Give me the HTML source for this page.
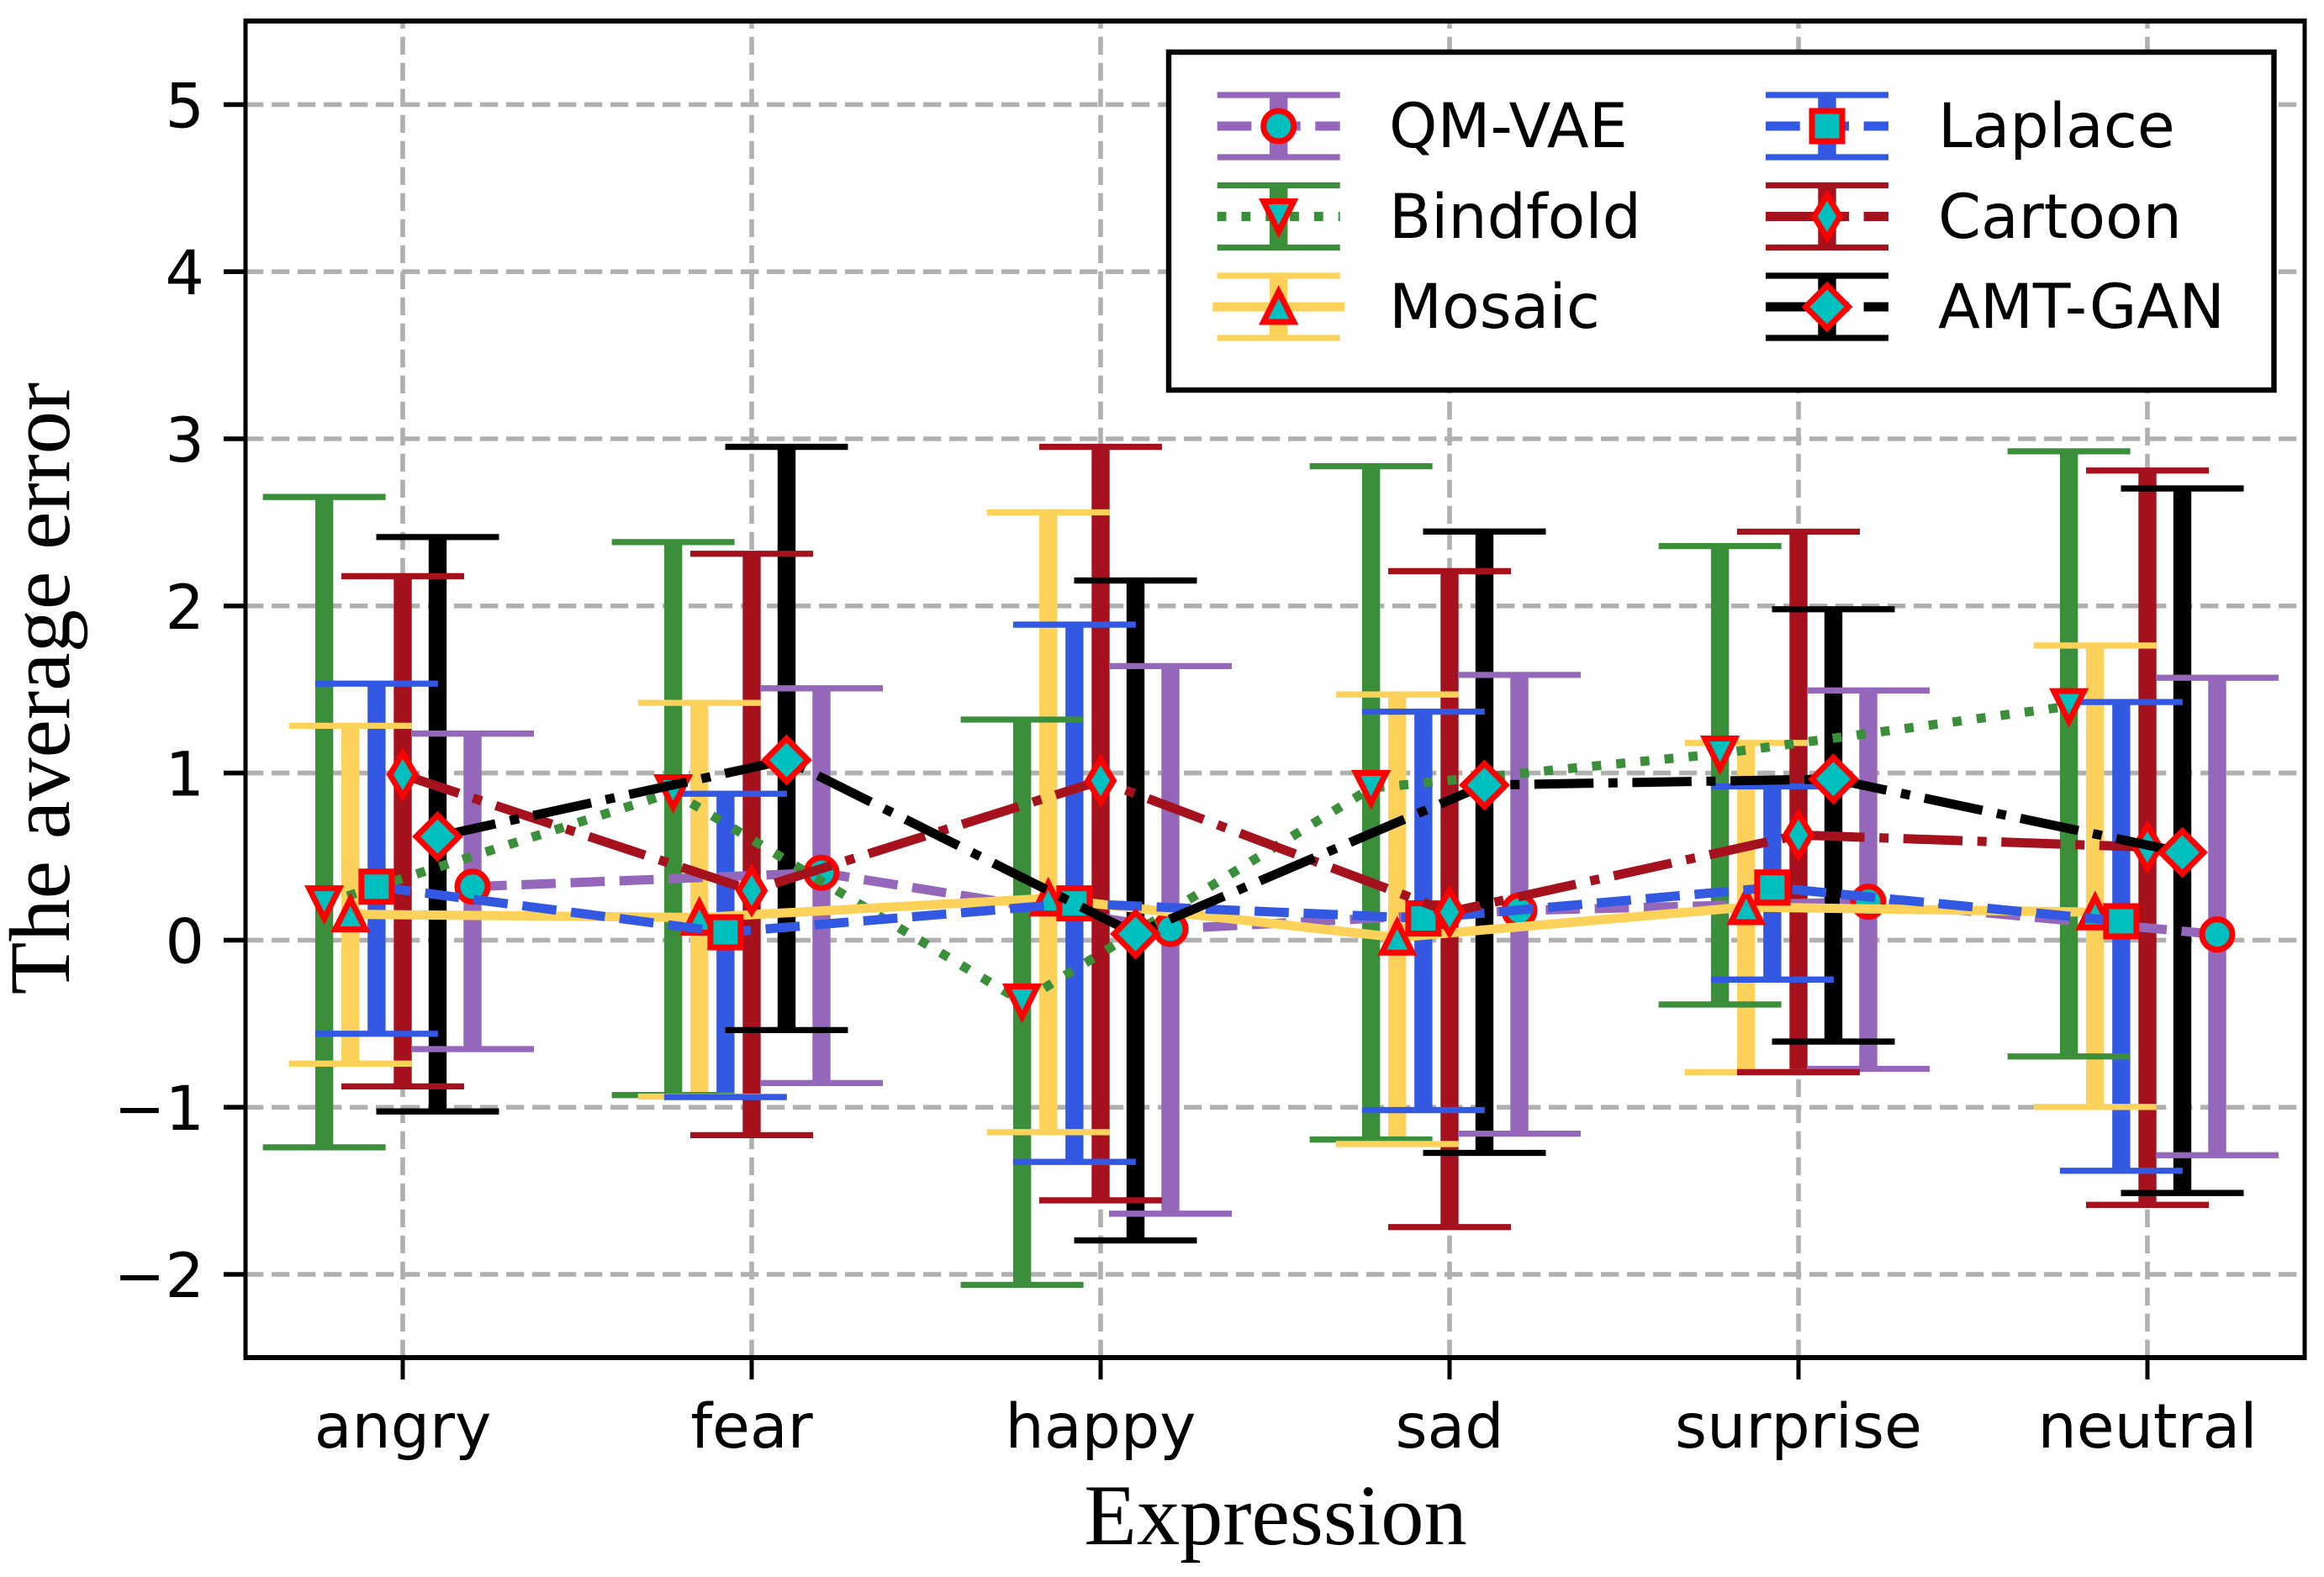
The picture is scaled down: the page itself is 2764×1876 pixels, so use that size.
<!DOCTYPE html>
<html lang="en">
<head>
<meta charset="utf-8">
<title>The average error by expression</title>
<style>
  html, body { margin: 0; padding: 0; background: #ffffff; }
  svg { display: block; }
  .tick { font-family: "DejaVu Sans", sans-serif; font-size: 73px; fill: #000; }
  .axis-title { font-family: "Liberation Serif", serif; font-size: 102.5px; fill: #000; }
</style>
</head>
<body>
<svg id="chart" xmlns="http://www.w3.org/2000/svg" width="2764" height="1876" viewBox="0 0 2764 1876">
  <rect x="0" y="0" width="2764" height="1876" fill="#ffffff"/>
  <g id="grid"></g>
  <g id="bars"></g>
  <g id="caps"></g>
  <g id="series"></g>
  <g id="spines"></g>
  <g id="ticks"></g>
  <text class="axis-title" x="1517" y="1837" text-anchor="middle">Expression</text>
  <text class="axis-title" x="82" y="819" text-anchor="middle" transform="rotate(-90 82 819)">The average error</text>
  <g id="legend">
    <rect x="1390" y="62" width="1314.5" height="402" fill="#ffffff" stroke="#000000" stroke-width="6.4"/>
    <text class="tick" x="1652" y="175">QM-VAE</text>
    <text class="tick" x="1652" y="283">Bindfold</text>
    <text class="tick" x="1652" y="390">Mosaic</text>
    <text class="tick" x="2305" y="175">Laplace</text>
    <text class="tick" x="2305" y="283">Cartoon</text>
    <text class="tick" x="2305" y="390">AMT-GAN</text>
  </g>
</svg>
<script>
// ---- data ----
const categories = ['angry', 'fear', 'happy', 'sad', 'surprise', 'neutral'];
const yTicks = [5, 4, 3, 2, 1, 0, -1, -2];
const yTickLabels = ['5', '4', '3', '2', '1', '0', '\u22121', '\u22122'];

const qmVaeMean  = [0.32, 0.403, 0.067, 0.177, 0.23, 0.034];
const qmVaeUpper = [1.236, 1.507, 1.64, 1.587, 1.494, 1.57];
const qmVaeLower = [-0.652, -0.855, -1.637, -1.158, -0.77, -1.287];

const bindfoldMean  = [0.22, 0.885, -0.368, 0.91, 1.116, 1.40];
const bindfoldUpper = [2.652, 2.382, 1.32, 2.836, 2.358, 2.925];
const bindfoldLower = [-1.24, -0.927, -2.063, -1.193, -0.385, -0.696];

const mosaicMean  = [0.155, 0.135, 0.25, 0.016, 0.198, 0.167];
const mosaicUpper = [1.283, 1.42, 2.56, 1.47, 1.18, 1.763];
const mosaicLower = [-0.739, -0.936, -1.149, -1.22, -0.79, -0.998];

const laplaceMean  = [0.32, 0.047, 0.22, 0.13, 0.315, 0.113];
const laplaceUpper = [1.535, 0.876, 1.888, 1.367, 0.92, 1.425];
const laplaceLower = [-0.56, -0.939, -1.327, -1.017, -0.236, -1.38];

const cartoonMean  = [0.99, 0.297, 0.954, 0.168, 0.629, 0.557];
const cartoonUpper = [2.178, 2.312, 2.952, 2.208, 2.444, 2.81];
const cartoonLower = [-0.875, -1.167, -1.557, -1.717, -0.79, -1.584];

const amtGanMean  = [0.62, 1.078, 0.037, 0.928, 0.964, 0.525];
const amtGanUpper = [2.412, 2.952, 2.152, 2.445, 1.98, 2.703];
const amtGanLower = [-1.025, -0.538, -1.797, -1.273, -0.607, -1.513];

// ---- axis functions ----
const plotLeft = 292, plotRight = 2741, plotTop = 25, plotBottom = 1615;
function xScale(v) { return 479 + v * 415; }
function yScale(v) { return 1118.4 - v * 198.8; }

const SVGNS = 'http://www.w3.org/2000/svg';
function make(tag, attrs, name, parent) {
  const el = document.createElementNS(SVGNS, tag);
  for (const k in attrs) el.setAttribute(k, attrs[k]);
  
  
  parent.appendChild(el);
  return el;
}

const seriesDefs = [
  { key: 'qm-vae',   mean: qmVaeMean,    upper: qmVaeUpper,    lower: qmVaeLower,    dodge: 0.2,    color: '#9467bb', dash: '40.7 17.6', marker: 'circle' },
  { key: 'bindfold', mean: bindfoldMean, upper: bindfoldUpper, lower: bindfoldLower, dodge: -0.225, color: '#3b8f3b', dash: '10.8 18', marker: 'tri-down' },
  { key: 'mosaic',   mean: mosaicMean,   upper: mosaicUpper,   lower: mosaicLower,   dodge: -0.15,  color: '#fcd25a', dash: null, marker: 'tri-up' },
  { key: 'laplace',  mean: laplaceMean,  upper: laplaceUpper,  lower: laplaceLower,  dodge: -0.075, color: '#3358e2', dash: '40.7 17.6', marker: 'square' },
  { key: 'cartoon',  mean: cartoonMean,  upper: cartoonUpper,  lower: cartoonLower,  dodge: 0,      color: '#a5111c', dash: '70.4 17.6 11 17.6', marker: 'thin-diamond' },
  { key: 'amt-gan',  mean: amtGanMean,   upper: amtGanUpper,   lower: amtGanLower,   dodge: 0.1,    color: '#000000', dash: '70.4 17.6 11 17.6', marker: 'diamond' }
];

const MARKER_FILL = '#00bfbf', MARKER_EDGE = '#ff0000', EDGE_W = 7;
function drawMarker(kind, cx, cy, name, parent) {
  const style = { fill: MARKER_FILL, stroke: MARKER_EDGE, 'stroke-width': EDGE_W, 'stroke-miterlimit': 10, 'stroke-linejoin': 'miter' };
  const h = 18, d = 25.46, t = d * 0.6;
  if (kind === 'circle') {
    return make('circle', Object.assign({ cx: cx, cy: cy, r: h }, style), name, parent);
  }
  if (kind === 'square') {
    return make('rect', Object.assign({ x: cx - h, y: cy - h, width: 2 * h, height: 2 * h }, style), name, parent);
  }
  let pts;
  if (kind === 'tri-down') pts = [[-h, -h], [h, -h], [0, h]];
  if (kind === 'tri-up') pts = [[-h, h], [h, h], [0, -h]];
  if (kind === 'diamond') pts = [[-d, 0], [0, -d], [d, 0], [0, d]];
  if (kind === 'thin-diamond') pts = [[-t, 0], [0, -d], [t, 0], [0, d]];
  const p = pts.map(function (q) { return (cx + q[0]) + ',' + (cy + q[1]); }).join(' ');
  return make('polygon', Object.assign({ points: p }, style), name, parent);
}

const gridG = document.getElementById('grid');
const barsG = document.getElementById('bars');
const capsG = document.getElementById('caps');
const seriesG = document.getElementById('series');
const spinesG = document.getElementById('spines');
const ticksG = document.getElementById('ticks');
const legendG = document.getElementById('legend');

// grid
const gridStyle = { stroke: '#b0b0b0', 'stroke-width': 5.6, 'stroke-dasharray': '21.3 9.7', fill: 'none' };
categories.forEach(function (c, i) {
  const x = xScale(i);
  make('line', Object.assign({ x1: x, x2: x, y1: plotBottom, y2: plotTop }, gridStyle), 'grid-x-' + c, gridG);
});
yTicks.forEach(function (v) {
  const y = yScale(v);
  make('line', Object.assign({ x1: plotLeft, x2: plotRight, y1: y, y2: y }, gridStyle), 'grid-y-' + v, gridG);
});

const BAR_W = 21.4, CAP_HALF = 73, CAP_W = 7.3, LINE_W = 11;

// stems lowest, caps above all stems, lines and markers above all caps
seriesDefs.forEach(function (s) {
  categories.forEach(function (c, i) {
    const x = xScale(i + s.dodge);
    make('line', { x1: x, x2: x, y1: yScale(s.lower[i]), y2: yScale(s.upper[i]), stroke: s.color, 'stroke-width': BAR_W }, 'error-bar-' + s.key + '-' + c, barsG);
    [['upper', s.upper[i]], ['lower', s.lower[i]]].forEach(function (e) {
      const y = yScale(e[1]);
      make('line', { x1: x - CAP_HALF, x2: x + CAP_HALF, y1: y, y2: y, stroke: s.color, 'stroke-width': CAP_W }, 'cap-' + e[0] + '-' + s.key + '-' + c, capsG);
    });
  });
});

seriesDefs.forEach(function (s) {
  const pts = s.mean.map(function (v, i) { return xScale(i + s.dodge) + ',' + yScale(v); }).join(' ');
  const lineAttrs = { points: pts, fill: 'none', stroke: s.color, 'stroke-width': LINE_W, 'stroke-linejoin': 'round', 'stroke-linecap': s.dash ? 'butt' : 'square' };
  if (s.dash) lineAttrs['stroke-dasharray'] = s.dash;
  make('polyline', lineAttrs, 'line-' + s.key, seriesG);
  s.mean.forEach(function (v, i) {
    drawMarker(s.marker, xScale(i + s.dodge), yScale(v), 'marker-' + s.key + '-' + categories[i], seriesG);
  });
});

// spines
make('line', { x1: plotLeft - 2.5, x2: plotRight + 2.5, y1: plotTop, y2: plotTop, stroke: '#000', 'stroke-width': 6 }, 'top-spine', spinesG);
make('line', { x1: plotLeft - 2.5, x2: plotRight + 2.5, y1: plotBottom, y2: plotBottom, stroke: '#000', 'stroke-width': 6 }, 'bottom-spine', spinesG);
make('line', { x1: plotLeft, x2: plotLeft, y1: plotTop, y2: plotBottom, stroke: '#000', 'stroke-width': 5 }, 'left-spine', spinesG);
make('line', { x1: plotRight, x2: plotRight, y1: plotTop, y2: plotBottom, stroke: '#000', 'stroke-width': 5 }, 'right-spine', spinesG);

// ticks and tick labels
categories.forEach(function (c, i) {
  const x = xScale(i);
  make('line', { x1: x, x2: x, y1: plotBottom, y2: plotBottom + 26, stroke: '#000', 'stroke-width': 5 }, 'x-tick-' + c, ticksG);
  const t = make('text', { x: x, y: 1722, 'text-anchor': 'middle', class: 'tick' }, 'x-tick-label-' + c, ticksG);
  t.textContent = c;
});
yTicks.forEach(function (v, i) {
  const y = yScale(v);
  make('line', { x1: plotLeft - 26, x2: plotLeft, y1: y, y2: y, stroke: '#000', 'stroke-width': 5.6 }, 'y-tick-' + v, ticksG);
  const t = make('text', { x: 243, y: y + 27, 'text-anchor': 'end', class: 'tick' }, 'y-tick-label-' + v, ticksG);
  t.textContent = yTickLabels[i];
});

// legend handles
const legendSlots = [[1520.7, 150], [1520.7, 257.5], [1520.7, 365], [2173, 150], [2173, 257.5], [2173, 365]];
seriesDefs.forEach(function (s, i) {
  const cx = legendSlots[i][0], cy = legendSlots[i][1];
  const left = cx - 73, right = cx + 73;
  make('line', { x1: cx, x2: cx, y1: cy - 37, y2: cy + 37, stroke: s.color, 'stroke-width': BAR_W }, 'legend-bar-' + s.key, legendG);
  make('line', { x1: left, x2: right, y1: cy - 37, y2: cy - 37, stroke: s.color, 'stroke-width': CAP_W }, 'legend-cap-top-' + s.key, legendG);
  make('line', { x1: left, x2: right, y1: cy + 37, y2: cy + 37, stroke: s.color, 'stroke-width': CAP_W }, 'legend-cap-bottom-' + s.key, legendG);
  const attrs = { x1: left, x2: right, y1: cy, y2: cy, stroke: s.color, 'stroke-width': LINE_W, 'stroke-linecap': s.dash ? 'butt' : 'square' };
  if (s.dash) attrs['stroke-dasharray'] = s.dash;
  make('line', attrs, 'legend-line-' + s.key, legendG);
  drawMarker(s.marker, cx, cy, 'legend-marker-' + s.key, legendG);
});
</script>
</body>
</html>
